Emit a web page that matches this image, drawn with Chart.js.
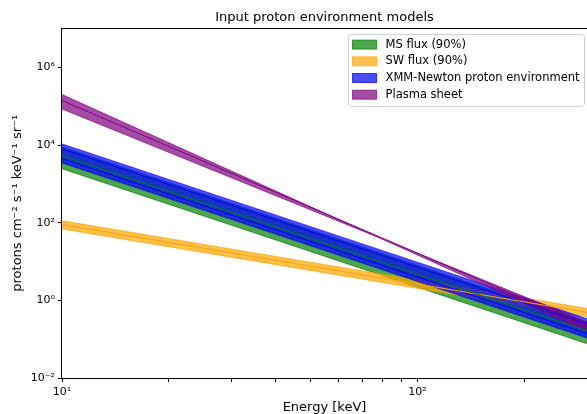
<!DOCTYPE html>
<html lang="en">
<head>
<meta charset="UTF-8">
<title>Input proton environment models</title>
<script src="https://cdn.jsdelivr.net/npm/chart.js"></script>
<style>
    body { margin: 0; overflow: hidden; background: #fff; }
    #wrap { width: 591px; height: 414px; }
</style>
</head>
<body>
<div id="wrap"><canvas id="chart" width="591" height="414"></canvas></div>
<script>
    // energy end points (keV); every model is a power law, straight on log-log axes
    const energy = [10, 300];

    // MS flux (90%)
    const msUpper = [8.9e3, 0.279];
    const msMid = [5.25e3, 0.164];
    const msLower = [2.45e3, 0.0767];

    // SW flux (90%)
    const swUpper = [112, 0.62];
    const swMid = [89, 0.49];
    const swLower = [69, 0.38];

    // XMM-Newton proton environment
    const xmmUpper = [1.07e4, 0.335];
    const xmmLower = [3.47e3, 0.108];
    const xmmLineA = [7.94e3, 0.248];
    const xmmLineB = [4.47e3, 0.140];

    // Plasma sheet
    const psUpper = [2.0e5, 0.157];
    const psMid = [1.4e5, 0.22];
    const psLower = [8.5e4, 0.275];

    const legendLabels = ['MS flux (90%)', 'SW flux (90%)', 'XMM-Newton proton environment', 'Plasma sheet'];
    const xTickValues = [10, 20, 30, 40, 50, 60, 70, 80, 90, 100, 200, 300];
    const xTickLabels = ['10¹', '', '', '', '', '', '', '', '', '10²', '', ''];
    const yTickValues = [1e-2, 1e0, 1e2, 1e4, 1e6];
    const yTickLabels = ['10⁻²', '10⁰', '10²', '10⁴', '10⁶'];

    const colors = {
        green: [0, 128, 0],
        orange: [255, 165, 0],
        blue: [0, 0, 255],
        purple: [128, 0, 128]
    };
    const rgba = (c, a) => `rgba(${c[0]},${c[1]},${c[2]},${a})`;
    const pts = vals => energy.map((e, i) => ({ x: e, y: vals[i] }));

    // fill_between-like band: upper line fills down to the next dataset
    function band(label, upper, lower, c, order) {
        const col = rgba(c, 0.7);
        return [
            { label: label, data: pts(upper), fill: '+1', backgroundColor: col, borderColor: col, borderWidth: 1, order: order },
            { label: label + ' (low)', data: pts(lower), fill: false, borderColor: col, borderWidth: 1, order: order }
        ];
    }
    function line(label, vals, c) {
        return { label: label, data: pts(vals), fill: false, borderColor: rgba(c, 1), borderWidth: 1, order: 1 };
    }

    const datasets = [
        ...band(legendLabels[0], msUpper, msLower, colors.green, 10),
        ...band(legendLabels[1], swUpper, swLower, colors.orange, 9),
        ...band(legendLabels[2], xmmUpper, xmmLower, colors.blue, 8),
        ...band(legendLabels[3], psUpper, psLower, colors.purple, 7),
        line('MS median', msMid, colors.green),
        line('SW median', swMid, colors.orange),
        line('XMM a', xmmLineA, colors.blue),
        line('XMM b', xmmLineB, colors.blue),
        line('Plasma sheet median', psMid, colors.purple)
    ];

    // axes box on all four sides
    const frame = {
        id: 'frame',
        afterDatasetsDraw(chart) {
            const { ctx, chartArea: a } = chart;
            ctx.save();
            ctx.strokeStyle = '#000';
            ctx.lineWidth = 1;
            ctx.strokeRect(Math.round(a.left) - 0.5, Math.round(a.top) - 0.5,
                Math.round(a.right - a.left) + 1, Math.round(a.bottom - a.top) + 1);
            ctx.restore();
        }
    };

    // boxed legend in the upper right corner of the axes
    const boxLegend = {
        id: 'boxLegend',
        afterDraw(chart) {
            const { ctx, chartArea: a } = chart;
            const swatch = [colors.green, colors.orange, colors.blue, colors.purple];
            ctx.save();
            ctx.font = '11.5px "DejaVu Sans"';
            const textW = Math.max(...legendLabels.map(t => ctx.measureText(t).width));
            const rowH = 16.7, swW = 24, swH = 9, pad = 4;
            const w = pad + swW + 9 + textW + 5;
            const h = rowH * legendLabels.length + 5;
            const right = 584.5, top = a.top + 6;
            const left = right - w;
            ctx.beginPath();
            ctx.roundRect(left, top, w, h, 3);
            ctx.fillStyle = 'rgba(255,255,255,0.8)';
            ctx.fill();
            ctx.strokeStyle = '#d0d0d0';
            ctx.lineWidth = 1;
            ctx.stroke();
            legendLabels.forEach((t, i) => {
                const cy = top + 10 + i * rowH;
                ctx.fillStyle = rgba(swatch[i], 0.7);
                ctx.strokeStyle = rgba(swatch[i], 0.7);
                ctx.fillRect(left + pad, cy - swH / 2, swW, swH);
                ctx.strokeRect(left + pad, cy - swH / 2, swW, swH);
                ctx.fillStyle = '#000';
                ctx.textBaseline = 'middle';
                ctx.fillText(t, left + pad + swW + 9, cy);
            });
            ctx.restore();
        }
    };

    Chart.defaults.font.family = '"DejaVu Sans", sans-serif';
    Chart.defaults.color = '#000';

    new Chart(document.getElementById('chart'), {
        type: 'line',
        data: { datasets: datasets },
        plugins: [frame, boxLegend],
        options: {
            responsive: false,
            animation: false,
            elements: { point: { radius: 0 }, line: { tension: 0 } },
            layout: { padding: 0 },
            plugins: {
                legend: { display: false },
                tooltip: { enabled: false },
                title: {
                    display: true,
                    fullSize: false,
                    text: 'Input proton environment models',
                    font: { size: 13, weight: 'normal' },
                    padding: { top: 10, bottom: 3 }
                }
            },
            scales: {
                x: {
                    type: 'logarithmic',
                    min: 10,
                    max: 300,
                    border: { display: false },
                    grid: { drawOnChartArea: false, drawTicks: true, tickLength: 4, tickColor: '#000' },
                    afterBuildTicks: s => { s.ticks = xTickValues.map(v => ({ value: v })); },
                    afterFit: s => { s.height = 36; },
                    ticks: {
                        autoSkip: false,
                        maxRotation: 0,
                        padding: 4,
                        font: { size: 11 },
                        callback: (v, i) => xTickLabels[i]
                    },
                    title: { display: true, text: 'Energy [keV]', font: { size: 13, lineHeight: 1 }, padding: { top: 0, bottom: 0 } }
                },
                y: {
                    type: 'logarithmic',
                    min: 1e-2,
                    max: 1e7,
                    border: { display: false },
                    grid: { drawOnChartArea: false, drawTicks: true, tickLength: 4, tickColor: '#000' },
                    afterBuildTicks: s => { s.ticks = yTickValues.map(v => ({ value: v })); },
                    afterFit: s => { s.width = 62; },
                    ticks: {
                        autoSkip: false,
                        padding: 3,
                        font: { size: 11 },
                        callback: (v, i) => yTickLabels[i]
                    },
                    title: { display: true, text: 'protons cm⁻² s⁻¹ keV⁻¹ sr⁻¹', font: { size: 13 }, padding: { top: 10, bottom: 0 } }
                }
            }
        }
    });
</script>
</body>
</html>
